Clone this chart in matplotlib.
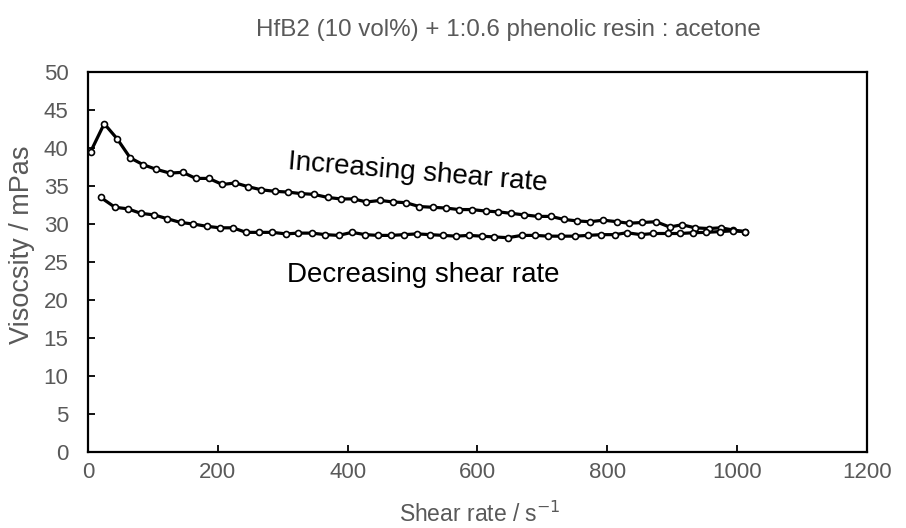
import matplotlib
matplotlib.use("Agg")
import matplotlib.pyplot as plt

plt.rcParams['font.family'] = ['Liberation Sans', 'DejaVu Sans']

# Increasing shear rate sweep
inc_rate = [4, 25, 45, 65, 85, 105, 126, 146, 166, 186, 207, 227, 247, 267, 288, 308,
            328, 348, 369, 389, 409, 429, 450, 470, 490, 510, 531, 551, 571, 591, 613,
            632, 652, 672, 693, 713, 733, 754, 773, 794, 815, 833, 854, 875, 896, 915,
            935, 956, 975, 994, 1012]
inc_visc = [39.5, 43.2, 41.2, 38.7, 37.8, 37.2, 36.7, 36.8, 36.0, 36.0, 35.2, 35.4, 34.9,
            34.5, 34.3, 34.2, 34.0, 33.9, 33.5, 33.3, 33.3, 32.9, 33.1, 32.9, 32.8, 32.3,
            32.2, 32.1, 31.9, 31.9, 31.7, 31.6, 31.4, 31.2, 31.0, 31.0, 30.6, 30.4, 30.3,
            30.5, 30.3, 30.1, 30.2, 30.3, 29.6, 29.9, 29.5, 29.4, 29.5, 29.2, 29.0]

# Decreasing shear rate sweep
dec_rate = [19.5, 41.6, 61, 81.6, 101.6, 122, 142.6, 162, 182.7, 203, 223, 243.6, 263.7,
            284, 304.8, 324, 345, 365.6, 386, 406.6, 427, 447, 467, 487, 507, 527, 547,
            567, 587, 607, 625, 647, 668, 689, 709, 729, 750, 770, 791, 812, 830, 851.5,
            871, 893, 912, 932, 952, 973, 993, 1012]
dec_visc = [33.5, 32.2, 32.0, 31.4, 31.2, 30.7, 30.2, 30.0, 29.7, 29.5, 29.5, 28.9, 28.9,
            28.9, 28.7, 28.8, 28.8, 28.6, 28.5, 28.9, 28.6, 28.5, 28.5, 28.6, 28.7, 28.6,
            28.5, 28.4, 28.5, 28.4, 28.3, 28.2, 28.5, 28.5, 28.4, 28.4, 28.4, 28.5, 28.6,
            28.6, 28.85, 28.6, 28.75, 28.75, 28.75, 28.85, 28.9, 29.0, 29.1, 29.0]

x_ticks = [0, 200, 400, 600, 800, 1000, 1200]
y_ticks = [0, 5, 10, 15, 20, 25, 30, 35, 40, 45, 50]

title = "HfB2 (10 vol%) + 1:0.6 phenolic resin : acetone"
gray = '#595959'

fig = plt.figure(figsize=(9.06, 5.28), dpi=100)
ax = fig.add_axes([88/906, 1-452/528, (867-88)/906, (452-72)/528])

style = dict(color='black', lw=2.3, marker='o', ms=4.3, mfc='white', mec='black', mew=1.2)
ax.plot(inc_rate, inc_visc, **style)
ax.plot(dec_rate, dec_visc, **style)

ax.set_xlim(0, 1200)
ax.set_ylim(0, 50)
ax.set_xticks(x_ticks)
ax.set_yticks(y_ticks)
ax.tick_params(direction='in', length=5, width=1.3, colors='black', labelcolor=gray,
               labelsize=16)
ax.tick_params(axis='x', pad=7)
ax.tick_params(axis='y', pad=14)
for s in ax.spines.values():
    s.set_linewidth(1.6)
    s.set_color('black')

ax.set_xlabel("Shear rate / s$^{-1}$", fontsize=16.5, color=gray)
ax.xaxis.set_label_coords(0.503, -0.163)
ax.xaxis.label.set_va('center')
ax.set_ylabel("Visocsity / mPas", fontsize=19.5, color=gray)
ax.yaxis.set_label_coords(-0.0847, 0.545)
ax.yaxis.label.set_va('center')

fig.text(508/906, 1-30/528, title, ha='center', va='center', fontsize=17.4, color=gray)

ax.text(308, 37.2, "Increasing shear rate", fontsize=20, rotation=-4.8, ha='left',
        va='baseline', rotation_mode='anchor', color='black')
ax.text(306, 22.4, "Decreasing shear rate", fontsize=20, ha='left', va='baseline',
        color='black')

fig.savefig("out.png", dpi=100)
